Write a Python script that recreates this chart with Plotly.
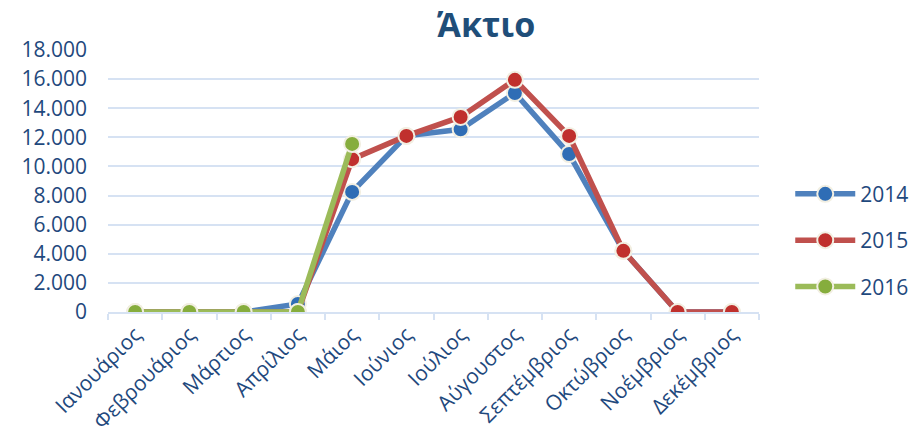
import plotly.graph_objects as go

months = ["Ιανουάριος", "Φεβρουάριος", "Μάρτιος", "Απρίλιος", "Μάιος", "Ιούνιος",
          "Ιούλιος", "Αύγουστος", "Σεπτέμβριος", "Οκτώβριος", "Νοέμβριος", "Δεκέμβριος"]
v2014 = [0, 0, 0, 550, 8250, 12100, 12550, 15050, 10850, 4200, 0, 0]
v2015 = [0, 0, 0, 0, 10500, 12100, 13400, 15950, 12100, 4200, 0, 0]
v2016 = [0, 0, 0, 0, 11550]
series = [("2014", v2014, "#4f81bd", "#2f6db5"),
          ("2015", v2015, "#c0504d", "#c0302d"),
          ("2016", v2016, "#9bbb59", "#86ad3d")]

TXT = "#1f497d"
FONT = "Open Sans"
W, H = 924, 438

fig = go.Figure()
for i, (name, vals, lc, mc) in enumerate(series):
    fig.add_trace(go.Scatter(
        x=months[:len(vals)], y=vals, name=name, mode="lines+markers",
        line=dict(color=lc, width=5.5),
        marker=dict(color=mc, size=16, line=dict(color="#f2efe2", width=2)),
        legendgroup=name,
    ))

fig.update_layout(
    width=W, height=H,
    paper_bgcolor="white", plot_bgcolor="white",
    margin=dict(l=108, r=165, t=50, b=126, autoexpand=False),
    separators=",.",
    title=dict(text="<b>Άκτιο</b>", x=486 / W, xanchor="center", y=1 - 25.5 / H, yanchor="middle",
               font=dict(family=FONT, size=34, color="#1f4e79")),
    font=dict(family=FONT, size=21, color=TXT),
    showlegend=True,
    legend=dict(x=1.048, xanchor="left", y=0.274, yanchor="middle",
                font=dict(family=FONT, size=21, color=TXT),
                itemwidth=60, tracegroupgap=16, bgcolor="rgba(0,0,0,0)"),
    xaxis=dict(
        type="category", categoryorder="array", categoryarray=months, automargin=False,
        range=[-0.5, 11.5], showgrid=False, showline=True, linecolor="#d6e2f3", linewidth=2,
        ticks="outside", tickson="boundaries", ticklen=6, tickcolor="#d6e2f3", tickwidth=2,
        tickangle=-45, tickfont=dict(family=FONT, size=21, color=TXT),
    ),
    yaxis=dict(
        range=[0, 18000], dtick=2000, tickformat=",d", showgrid=True, automargin=False,
        gridcolor="#d6e2f3", gridwidth=2, zeroline=False, showline=False,
        ticks="", ticklabelstandoff=20,
        tickfont=dict(family=FONT, size=21, color=TXT),
    ),
)

fig.write_html("out.html", config={"displayModeBar": False},
               post_script="document.body.style.margin='0';")
